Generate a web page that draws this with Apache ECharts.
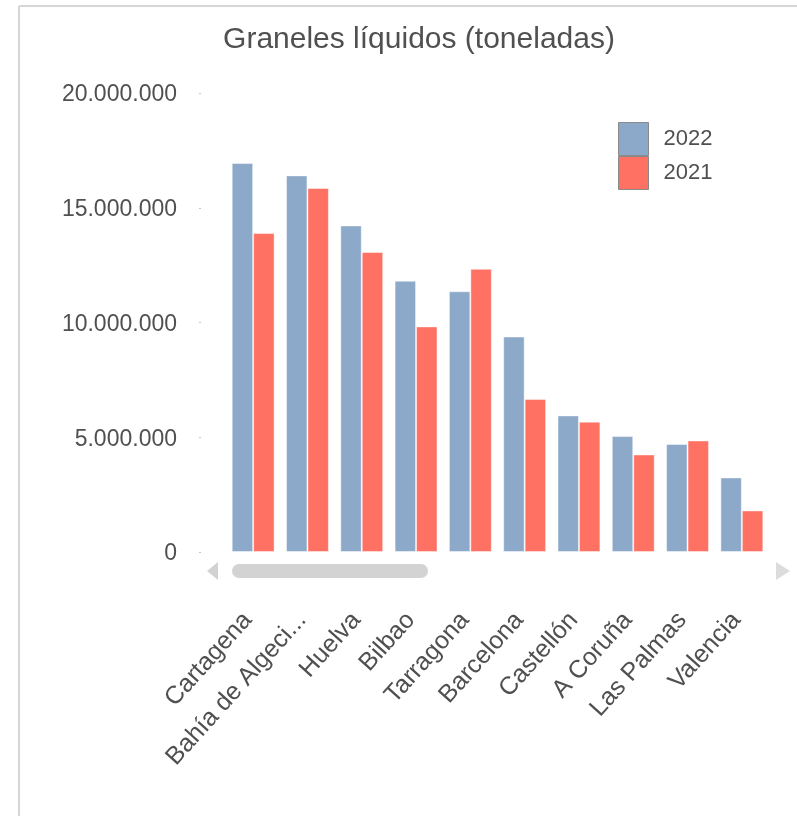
<!DOCTYPE html>
<html>
<head>
<meta charset="utf-8">
<script src="https://cdn.jsdelivr.net/npm/echarts@6/dist/echarts.min.js"></script>
<style>
html,body{margin:0;padding:0;background:#fff;}
#chart{width:797px;height:816px;}
</style>
</head>
<body>
<div id="chart"></div>
<script>
const categories = ['Cartagena','Bahía de Algeciras','Huelva','Bilbao','Tarragona','Barcelona','Castellón','A Coruña','Las Palmas','Valencia'];
const values2022 = [16950000,16410000,14230000,11820000,11360000,9390000,5950000,5050000,4710000,3250000];
const values2021 = [13900000,15860000,13070000,9830000,12340000,6670000,5680000,4250000,4860000,1810000];
const yTicks = [0,5000000,10000000,15000000,20000000];

const chart = echarts.init(document.getElementById('chart'), null, {renderer:'canvas'});
const fmt = v => String(v).replace(/\B(?=(\d{3})+(?!\d))/g, '.');
const textColor = '#505050';
const option = {
  backgroundColor:'#ffffff',
  animation:false,
  title:{
    text:'Graneles líquidos (toneladas)',
    left:414, textAlign:'center', top:20,
    textStyle:{fontFamily:'Liberation Sans', fontSize:30, fontWeight:'normal', color:textColor}
  },
  legend:{
    orient:'vertical', left:613, top:117, itemGap:0, itemWidth:30, itemHeight:33,
    icon:'rect',
    data:['2022','2021'],
    itemStyle:{borderColor:'#8a8a8a', borderWidth:1},
    textStyle:{fontFamily:'Liberation Sans', fontSize:22, color:textColor, padding:[0,0,0,10]}
  },
  grid:{left:226, right:28, top:93, bottom:264, containLabel:false},
  xAxis:{
    type:'category', data:categories,
    axisLine:{show:false}, axisTick:{show:false},
    axisLabel:{
      rotate:48, margin:58, interval:0, padding:[0,8,0,0],
      fontFamily:'Liberation Sans', fontSize:25, color:textColor,
      formatter: v => v.length > 15 ? v.slice(0,15) + '...' : v
    }
  },
  yAxis:{
    type:'value', min:yTicks[0], max:yTicks[yTicks.length-1], interval:yTicks[1]-yTicks[0],
    offset:25,
    axisLine:{show:false},
    axisTick:{show:true, length:2, lineStyle:{color:'#c8c8c8'}},
    splitLine:{show:false},
    axisLabel:{margin:24, fontFamily:'Liberation Sans', fontSize:23, color:textColor,
      formatter: v => '{v|' + fmt(v) + '}',
      rich:{v:{fontFamily:'Liberation Sans', fontSize:23, color:textColor, padding:[4,0,0,0]}}}
  },
  series:[
    {name:'2022', type:'bar', data:values2022, barGap:'0%', barCategoryGap:'21%',
     itemStyle:{color:'#8DA9C9', borderColor:'rgba(255,255,255,0.45)', borderWidth:1}},
    {name:'2021', type:'bar', data:values2021, barGap:'0%', barCategoryGap:'21%',
     itemStyle:{color:'#FE7163', borderColor:'rgba(255,255,255,0.45)', borderWidth:1}}
  ],
  graphic:[
    {type:'line', shape:{x1:19, y1:6, x2:797, y2:6}, style:{stroke:'#d6d6d6', lineWidth:2}, silent:true},
    {type:'line', shape:{x1:19, y1:6, x2:19, y2:816}, style:{stroke:'#d6d6d6', lineWidth:2}, silent:true},
    {type:'polygon', shape:{points:[[218,562],[218,580],[207,571]]}, style:{fill:'#d2d2d2'}, silent:true},
    {type:'rect', shape:{x:232, y:564, width:196, height:14, r:7}, style:{fill:'#d3d3d3'}, silent:true},
    {type:'polygon', shape:{points:[[776,562],[776,580],[790,571]]}, style:{fill:'#dcdcdc'}, silent:true}
  ]
};
chart.setOption(option);
</script>
</body>
</html>
